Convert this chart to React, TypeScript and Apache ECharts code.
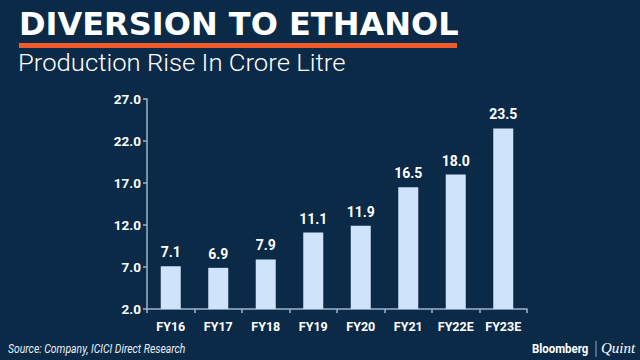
import React, { useEffect, useRef } from "react";
import * as echarts from "echarts";

const categories = ["FY16", "FY17", "FY18", "FY19", "FY20", "FY21", "FY22E", "FY23E"];
const production = [7.1, 6.9, 7.9, 11.1, 11.9, 16.5, 18.0, 23.5];
const axisBase = 2;
const axisTop = 27;
const tickStep = 5;

export default function App() {
  const ref = useRef<HTMLDivElement>(null);
  useEffect(() => {
    const chart = echarts.init(ref.current!, null, { renderer: "svg" });
    const axisColor = "#9db5cc";
    chart.setOption({
      animation: false,
      backgroundColor: "#0b2a47",
      grid: { left: 147, right: 113, top: 99, bottom: 51 },
      xAxis: {
        type: "category",
        data: categories,
        axisLine: { lineStyle: { color: axisColor, width: 1.5 } },
        axisTick: { show: true, length: 4, lineStyle: { color: axisColor, width: 1.5 } },
        axisLabel: {
          color: "#ffffff",
          fontFamily: "Roboto",
          fontWeight: "bold",
          fontSize: 12.5,
          margin: 11,
        },
      },
      yAxis: {
        type: "value",
        min: 0,
        max: axisTop - axisBase,
        interval: tickStep,
        splitLine: { show: false },
        axisLine: { show: true, lineStyle: { color: axisColor, width: 1.5 } },
        axisTick: { show: true, length: 4, lineStyle: { color: axisColor, width: 1.5 } },
        axisLabel: {
          color: "#ffffff",
          fontFamily: "Roboto",
          fontWeight: "bold",
          fontSize: 13.5,
          margin: 6,
          formatter: (v: number) => (v + axisBase).toFixed(1),
        },
      },
      series: [
        {
          type: "bar",
          barWidth: 20,
          data: production.map((v) => v - axisBase),
          itemStyle: { color: "#cfe4fa" },
          label: {
            show: true,
            position: "top",
            distance: 7,
            color: "#ffffff",
            fontFamily: "Roboto",
            fontWeight: "bold",
            fontSize: 14,
            formatter: (p: any) => production[p.dataIndex].toFixed(1),
          },
        },
      ],
      graphic: [
        {
          type: "text",
          x: 19,
          y: 8,
          style: {
            text: "DIVERSION TO ETHANOL",
            fill: "#ffffff",
            font: "bold 32px 'DejaVu Sans'",
            textVerticalAlign: "top",
          },
        },
        {
          type: "rect",
          shape: { x: 19, y: 43, width: 438, height: 5 },
          style: { fill: "#f15a29" },
        },
        {
          type: "text",
          x: 18,
          y: 51,
          scaleX: 1.07,
          style: {
            text: "Production Rise In Crore Litre",
            fill: "#ffffff",
            font: "300 24px Roboto",
            textVerticalAlign: "top",
          },
        },
        {
          type: "text",
          x: 8,
          y: 342,
          scaleX: 0.8,
          style: {
            text: "Source: Company, ICICI Direct Research",
            fill: "#e8eef5",
            font: "italic 13px Roboto",
            textVerticalAlign: "top",
          },
        },
        {
          type: "text",
          x: 532,
          y: 342,
          scaleX: 0.88,
          style: {
            text: "Bloomberg",
            fill: "#ffffff",
            font: "bold 13px Roboto",
            textVerticalAlign: "top",
          },
        },
        {
          type: "rect",
          shape: { x: 595.5, y: 341, width: 1, height: 16 },
          style: { fill: "#8fa6bd" },
        },
        {
          type: "text",
          x: 601,
          y: 340,
          style: {
            text: "Quint",
            fill: "#ffffff",
            font: "italic 15px 'Liberation Serif'",
            textVerticalAlign: "top",
          },
        },
      ],
    });
    return () => chart.dispose();
  }, []);
  return <div ref={ref} style={{ width: 640, height: 360, position: "fixed", left: 0, top: 0 }} />;
}
